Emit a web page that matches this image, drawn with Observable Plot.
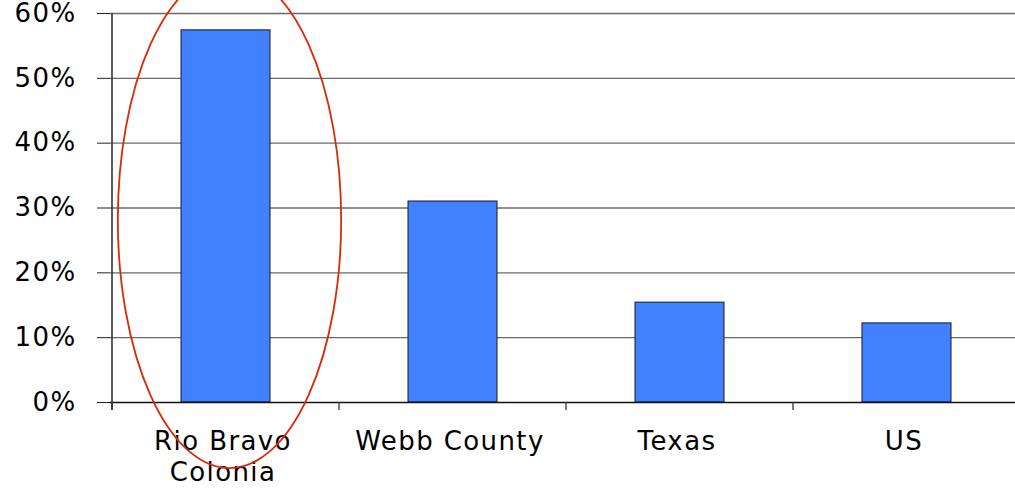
<!DOCTYPE html>
<html>
<head>
<meta charset="utf-8">
<script src="https://cdn.jsdelivr.net/npm/d3@7"></script>
<script src="https://cdn.jsdelivr.net/npm/@observablehq/plot@0.6"></script>
<style>
  html, body { margin: 0; padding: 0; background: #fff; }
  #chart { width: 1015px; height: 488px; overflow: hidden; }
</style>
</head>
<body>
<div id="chart"></div>
<script>
// Share of population, by area
const categories = ["Rio Bravo Colonia", "Webb County", "Texas", "US"];
const categoryLabels = ["Rio Bravo\nColonia", "Webb County", "Texas", "US"];
const shares = [57.4, 31.0, 15.4, 12.2];
const yTicks = [0, 10, 20, 30, 40, 50, 60];

// Highlight ring around the first category (vertical centre and half-height in % units)
const highlight = {category: "Rio Bravo Colonia", center: 28.1, halfHeight: 38.3};

const data = categories.map((c, i) => ({category: c, share: shares[i]}));

const chart = Plot.plot({
  width: 1015,
  height: 488,
  marginTop: 13,
  marginBottom: 86,
  marginLeft: 110,
  marginRight: 0,
  style: {
    fontFamily: "'DejaVu Sans', Verdana, sans-serif",
    fontSize: "26px",
    letterSpacing: "1.4px",
    color: "#000",
    background: "#fff",
    overflow: "hidden"
  },
  x: {domain: categories, range: [110, 1021], padding: 0, label: null},
  y: {domain: [0, 60], label: null},
  marks: [
    Plot.ruleY(yTicks.slice(1), {stroke: "#6a6a6a", strokeWidth: 1.4}),
    Plot.barY(data, {
      x: "category",
      y: "share",
      fill: "#4180ff",
      stroke: "#1a1a1a",
      strokeWidth: 1,
      insetLeft: 69,
      insetRight: 69
    }),
    Plot.ruleY([0], {stroke: "#111", strokeWidth: 1.3}),
    Plot.axisY({
      ticks: yTicks,
      tickFormat: d => d + "%",
      tickSize: 13,
      tickPadding: 21,
      stroke: "#222",
      label: null
    }),
    Plot.axisX({
      tickSize: 0,
      tickPadding: 25,
      lineHeight: 1.2,
      dx: -3,
      tickFormat: d => categoryLabels[categories.indexOf(d)],
      label: null
    })
  ]
});

document.getElementById("chart").appendChild(chart);

// Category boundary ticks, value axis line and the highlight ring
const xs = chart.scale("x");
const ys = chart.scale("y");
const bw = xs.bandwidth;
const y0 = ys.apply(0);
const svg = d3.select(chart);
const bounds = categories.map(c => xs.apply(c)).concat([xs.apply(categories[categories.length - 1]) + bw]);

svg.append("g")
  .attr("stroke", "#333")
  .attr("stroke-width", 1.3)
  .selectAll("line")
  .data(bounds)
  .join("line")
  .attr("x1", d => d).attr("x2", d => d)
  .attr("y1", y0).attr("y2", y0 + 8);

svg.append("line")
  .attr("stroke", "#333")
  .attr("stroke-width", 1.6)
  .attr("x1", bounds[0]).attr("x2", bounds[0])
  .attr("y1", ys.apply(60)).attr("y2", y0 + 8);

svg.append("ellipse")
  .attr("fill", "none")
  .attr("stroke", "#d92a08")
  .attr("stroke-width", 1.8)
  .attr("cx", xs.apply(highlight.category) + bw / 2 + 4)
  .attr("cy", ys.apply(highlight.center))
  .attr("rx", bw * 0.492)
  .attr("ry", y0 - ys.apply(highlight.halfHeight));
</script>
</body>
</html>
